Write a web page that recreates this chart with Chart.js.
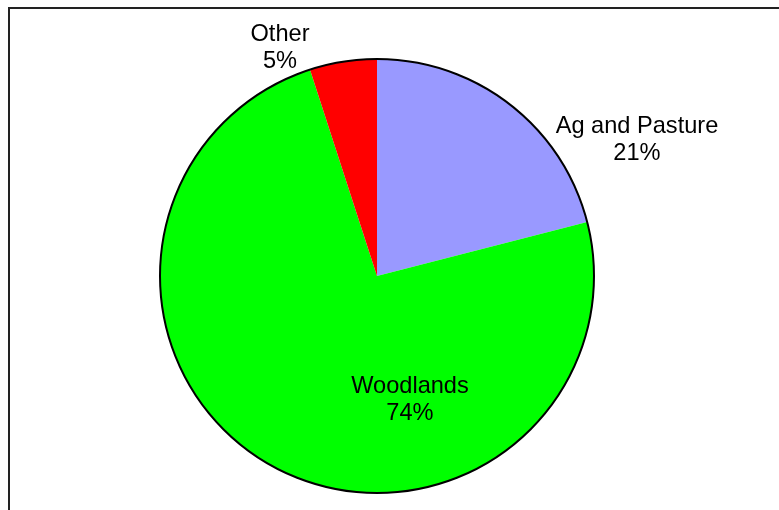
<!DOCTYPE html>
<html>
<head>
<meta charset="utf-8">
<script src="https://cdn.jsdelivr.net/npm/chart.js@4/dist/chart.umd.min.js"></script>
<style>
  html, body { margin: 0; padding: 0; background: #fff; }
  #wrap { position: relative; width: 779px; height: 510px; overflow: hidden; }
  #frame { position: absolute; left: 8px; top: 7px; width: 900px; height: 600px;
           border-left: 2px solid #222; border-top: 2px solid #222; }
  canvas { position: absolute; left: 0; top: 0; }
</style>
</head>
<body>
<div id="wrap">
  <div id="frame"></div>
  <canvas id="c" width="779" height="510"></canvas>
</div>
<script>
// Land use shares (percent)
const categories = ['Ag and Pasture', 'Woodlands', 'Other'];
const shares = [21, 74, 5];

const sliceColors = ['#9999FF', '#00FF00', '#FF0000'];
// Label anchor for each slice, relative to the pie centre in units of the radius
const labelAnchors = [[1.198, -0.627], [0.152, 0.571], [-0.447, -1.051]];

const outlineAndLabels = {
  id: 'outlineAndLabels',
  afterDatasetsDraw(chart) {
    const ctx = chart.ctx;
    const meta = chart.getDatasetMeta(0);
    const arc = meta.data[0];
    const cx = arc.x, cy = arc.y, r = arc.outerRadius;
    ctx.save();
    ctx.beginPath();
    ctx.arc(cx, cy, r, 0, Math.PI * 2);
    ctx.lineWidth = 2;
    ctx.strokeStyle = '#000';
    ctx.stroke();

    ctx.fillStyle = '#000';
    ctx.font = '23.6px "Liberation Sans", Arial, sans-serif';
    ctx.textAlign = 'center';
    ctx.textBaseline = 'middle';
    const lineH = 27;
    categories.forEach((name, i) => {
      const [fx, fy] = labelAnchors[i];
      const x = cx + fx * r, y = cy + fy * r;
      ctx.fillText(name, x, y - lineH / 2);
      ctx.fillText(shares[i] + '%', x, y + lineH / 2);
    });
    ctx.restore();
  }
};

new Chart(document.getElementById('c'), {
  type: 'pie',
  data: {
    labels: categories,
    datasets: [{
      data: shares,
      backgroundColor: sliceColors,
      borderWidth: 0
    }]
  },
  options: {
    responsive: false,
    animation: false,
    layout: { padding: { left: 160, right: 185, top: 59, bottom: 17 } },
    plugins: { legend: { display: false }, tooltip: { enabled: false } }
  },
  plugins: [outlineAndLabels]
});
</script>
</body>
</html>
